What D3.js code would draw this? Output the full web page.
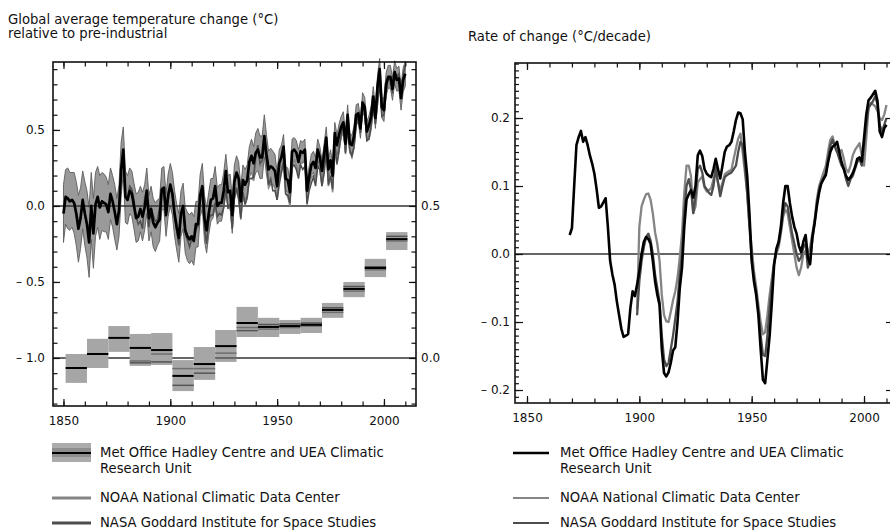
<!DOCTYPE html>
<html>
<head>
<meta charset="utf-8">
<script src="https://cdn.jsdelivr.net/npm/d3@7"></script>
<style>
  body { margin: 0; background: #fff; }
  svg { display: block; font-family: "DejaVu Sans", Verdana, sans-serif; }
</style>
</head>
<body>
<script>
// ---- data ----
const HAD_START = 1850;
// HadCRUT annual anomaly, relative to pre-industrial (degC), 1850-2010
const hadcrut = [
  -0.05, 0.06, 0.05, 0.03, 0.04, 0.02, -0.05, -0.15, -0.08, 0.04,
  -0.05, -0.12, -0.24, 0.00, -0.18, 0.01, 0.06, -0.01, 0.03, 0.02,
  0.01, -0.04, 0.08, 0.03, -0.04, -0.12, -0.03, 0.24, 0.37, 0.06,
  0.04, 0.10, 0.08, 0.00, -0.08, -0.07, -0.02, -0.07, -0.01, 0.10,
  -0.08, -0.02, -0.11, -0.14, -0.11, -0.09, 0.11, 0.12, -0.06, 0.07,
  0.14, 0.08, -0.05, -0.14, -0.21, -0.05, 0.00, -0.16, -0.20, -0.22,
  -0.20, -0.23, -0.12, -0.12, 0.07, 0.13, -0.08, -0.16, -0.05, 0.04,
  0.05, 0.13, 0.00, 0.02, 0.02, 0.10, 0.23, 0.09, 0.10, -0.06,
  0.16, 0.22, 0.18, 0.03, 0.17, 0.14, 0.17, 0.29, 0.33, 0.28,
  0.35, 0.37, 0.32, 0.32, 0.46, 0.34, 0.24, 0.26, 0.25, 0.23,
  0.13, 0.28, 0.32, 0.39, 0.18, 0.17, 0.09, 0.36, 0.37, 0.35,
  0.29, 0.36, 0.35, 0.37, 0.10, 0.19, 0.27, 0.29, 0.25, 0.37,
  0.32, 0.23, 0.34, 0.45, 0.24, 0.30, 0.20, 0.48, 0.40, 0.47,
  0.52, 0.55, 0.41, 0.60, 0.41, 0.40, 0.46, 0.60, 0.61, 0.51,
  0.68, 0.65, 0.49, 0.53, 0.59, 0.72, 0.58, 0.79, 0.90, 0.65,
  0.63, 0.80, 0.85, 0.85, 0.77, 0.88, 0.83, 0.84, 0.71, 0.83,
  0.87
];
// half-width of the HadCRUT uncertainty band
const hadUnc = [
  0.19, 0.18, 0.20, 0.19, 0.18, 0.20, 0.21, 0.22, 0.20, 0.19,
  0.21, 0.22, 0.23, 0.22, 0.23, 0.21, 0.20, 0.21, 0.19, 0.19,
  0.18, 0.18, 0.17, 0.17, 0.18, 0.17, 0.17, 0.18, 0.15, 0.17,
  0.16, 0.15, 0.15, 0.15, 0.16, 0.16, 0.15, 0.16, 0.15, 0.15,
  0.15, 0.15, 0.16, 0.16, 0.15, 0.14, 0.14, 0.14, 0.14, 0.14,
  0.14, 0.14, 0.15, 0.15, 0.16, 0.15, 0.15, 0.15, 0.16, 0.16,
  0.16, 0.16, 0.15, 0.15, 0.14, 0.15, 0.15, 0.15, 0.14, 0.14,
  0.13, 0.13, 0.12, 0.12, 0.12, 0.12, 0.11, 0.11, 0.11, 0.12,
  0.11, 0.11, 0.11, 0.10, 0.10, 0.10, 0.10, 0.10, 0.11, 0.11,
  0.13, 0.14, 0.14, 0.14, 0.14, 0.13, 0.12, 0.12, 0.11, 0.11,
  0.09, 0.09, 0.08, 0.08, 0.08, 0.08, 0.08, 0.08, 0.08, 0.08,
  0.08, 0.07, 0.07, 0.07, 0.08, 0.07, 0.07, 0.07, 0.07, 0.07,
  0.07, 0.07, 0.07, 0.07, 0.07, 0.07, 0.07, 0.07, 0.07, 0.07,
  0.07, 0.07, 0.065, 0.065, 0.065, 0.065, 0.065, 0.065, 0.065, 0.065,
  0.065, 0.065, 0.065, 0.065, 0.065, 0.065, 0.07, 0.07, 0.07, 0.07,
  0.075, 0.075, 0.075, 0.075, 0.075, 0.075, 0.075, 0.08, 0.08, 0.08,
  0.08
];
const OTHER_START = 1880;
// NOAA NCDC annual anomaly, 1880-2010
const noaa = [
  0.08, 0.12, 0.10, 0.02, -0.07, -0.05, -0.04, -0.08, 0.07, 0.11,
  -0.13, -0.06, -0.11, -0.13, -0.10, -0.03, 0.12, 0.10, -0.08, 0.07,
  0.13, 0.05, -0.06, -0.17, -0.25, -0.08, -0.02, -0.19, -0.23, -0.25,
  -0.21, -0.24, -0.15, -0.15, 0.02, 0.07, -0.13, -0.23, -0.08, -0.07,
  -0.05, 0.03, -0.07, -0.04, -0.05, -0.01, 0.11, 0.00, 0.01, -0.15,
  0.05, 0.10, 0.04, -0.09, 0.07, 0.01, 0.05, 0.18, 0.18, 0.17,
  0.29, 0.38, 0.26, 0.27, 0.40, 0.29, 0.12, 0.15, 0.14, 0.12,
  0.04, 0.19, 0.22, 0.29, 0.08, 0.06, 0.00, 0.24, 0.31, 0.26,
  0.22, 0.28, 0.29, 0.31, 0.06, 0.13, 0.19, 0.20, 0.16, 0.28,
  0.24, 0.13, 0.22, 0.36, 0.13, 0.19, 0.09, 0.37, 0.27, 0.36,
  0.46, 0.52, 0.34, 0.51, 0.36, 0.32, 0.38, 0.53, 0.59, 0.48,
  0.64, 0.61, 0.43, 0.44, 0.51, 0.65, 0.54, 0.68, 0.83, 0.60,
  0.59, 0.74, 0.80, 0.81, 0.77, 0.86, 0.81, 0.82, 0.74, 0.84,
  0.90
];
// NASA GISS annual anomaly, 1880-2010
const nasa = [
  0.05, 0.13, 0.11, 0.04, -0.07, -0.12, -0.10, -0.15, 0.04, 0.11,
  -0.14, -0.01, -0.06, -0.10, -0.09, -0.01, 0.10, 0.10, -0.06, 0.04,
  0.13, 0.06, -0.07, -0.16, -0.26, -0.05, -0.01, -0.18, -0.22, -0.27,
  -0.22, -0.23, -0.15, -0.13, 0.06, 0.07, -0.15, -0.25, -0.08, -0.06,
  -0.06, 0.02, -0.07, -0.05, -0.06, -0.01, 0.11, -0.01, 0.01, -0.15,
  0.05, 0.12, 0.05, -0.08, 0.09, 0.01, 0.06, 0.18, 0.18, 0.19,
  0.34, 0.40, 0.28, 0.30, 0.41, 0.30, 0.14, 0.18, 0.10, 0.10,
  0.04, 0.14, 0.22, 0.29, 0.08, 0.07, 0.02, 0.26, 0.27, 0.24,
  0.18, 0.27, 0.24, 0.26, 0.01, 0.10, 0.15, 0.19, 0.13, 0.26,
  0.24, 0.13, 0.22, 0.37, 0.14, 0.20, 0.11, 0.39, 0.28, 0.37,
  0.47, 0.53, 0.35, 0.52, 0.37, 0.33, 0.39, 0.53, 0.60, 0.48,
  0.66, 0.61, 0.43, 0.44, 0.52, 0.66, 0.54, 0.67, 0.82, 0.59,
  0.60, 0.75, 0.84, 0.83, 0.74, 0.89, 0.85, 0.87, 0.75, 0.86,
  0.93
];

// decadal means (right-hand axis of left panel)
const decStart = [1851, 1861, 1871, 1881, 1891, 1901, 1911, 1921, 1931, 1941, 1951, 1961, 1971, 1981, 1991, 2001];
const decHad  = [-0.033, 0.013, 0.066, 0.033, 0.026, -0.059, -0.020, 0.039, 0.115, 0.102, 0.105, 0.109, 0.158, 0.227, 0.296, 0.391];
const decLow  = [-0.082, -0.033, 0.020, -0.026, -0.023, -0.109, -0.072, -0.013, 0.069, 0.069, 0.079, 0.082, 0.132, 0.200, 0.266, 0.355];
const decHigh = [0.013, 0.063, 0.105, 0.079, 0.082, -0.007, 0.036, 0.092, 0.168, 0.132, 0.125, 0.132, 0.181, 0.250, 0.326, 0.414];
const decNoaa = [null, null, null, -0.010, 0.013, -0.035, -0.035, 0.016, 0.100, 0.095, 0.100, 0.105, 0.150, 0.220, 0.290, 0.385];
const decNasa = [null, null, null, -0.016, -0.013, -0.090, -0.050, 0.000, 0.090, 0.110, 0.112, 0.115, 0.165, 0.235, 0.300, 0.400];

// rate of change (degC/decade)
const RATE_HAD_START = 1869;
const rateHad = [
  0.028, 0.038, 0.100, 0.160, 0.172, 0.181, 0.165, 0.172, 0.160, 0.145,
  0.133, 0.118, 0.095, 0.068, 0.070, 0.076, 0.082, 0.040, -0.010, -0.030,
  -0.045, -0.070, -0.090, -0.110, -0.122, -0.120, -0.118, -0.080, -0.055, -0.062,
  -0.045, -0.025, 0.000, 0.018, 0.025, 0.022, 0.015, -0.010, -0.040, -0.060,
  -0.075, -0.140, -0.175, -0.180, -0.174, -0.160, -0.142, -0.137, -0.100, -0.050,
  -0.020, 0.040, 0.080, 0.088, 0.094, 0.083, 0.100, 0.145, 0.152, 0.144,
  0.125, 0.118, 0.115, 0.113, 0.125, 0.140, 0.125, 0.111, 0.130, 0.150,
  0.158, 0.160, 0.165, 0.180, 0.197, 0.208, 0.207, 0.198, 0.150, 0.115,
  0.060, -0.010, -0.040, -0.060, -0.090, -0.140, -0.185, -0.190, -0.155, -0.120,
  -0.070, -0.015, 0.008, 0.018, 0.040, 0.075, 0.100, 0.100, 0.075, 0.055,
  0.040, 0.030, 0.012, 0.003, 0.018, 0.028, -0.005, -0.015, 0.025, 0.045,
  0.070, 0.090, 0.104, 0.110, 0.116, 0.135, 0.150, 0.158, 0.160, 0.165,
  0.150, 0.135, 0.125, 0.115, 0.109, 0.113, 0.119, 0.128, 0.140, 0.142,
  0.136, 0.170, 0.205, 0.226, 0.230, 0.235, 0.240, 0.225, 0.180, 0.172,
  0.185, 0.190
];
const RATE_OTHER_START = 1899;
const rateNoaa = [
  -0.082, 0.040, 0.070, 0.080, 0.088, 0.089, 0.080, 0.060, 0.032, 0.015,
  -0.010, -0.060, -0.090, -0.099, -0.100, -0.085, -0.068, -0.055, -0.035, -0.005,
  0.030, 0.090, 0.130, 0.130, 0.114, 0.060, 0.070, 0.105, 0.110, 0.114,
  0.098, 0.092, 0.094, 0.097, 0.110, 0.120, 0.105, 0.093, 0.105, 0.117,
  0.120, 0.122, 0.124, 0.140, 0.155, 0.170, 0.177, 0.150, 0.120, 0.090,
  0.045, 0.010, -0.025, -0.048, -0.075, -0.100, -0.118, -0.115, -0.090, -0.060,
  -0.035, -0.012, 0.000, 0.010, 0.030, 0.055, 0.065, 0.060, 0.040, 0.020,
  0.000, -0.020, -0.031, -0.020, 0.000, 0.005, 0.000, 0.010, 0.030, 0.050,
  0.080, 0.100, 0.110, 0.120, 0.130, 0.150, 0.168, 0.173, 0.160, 0.150,
  0.150, 0.153, 0.140, 0.125, 0.120, 0.130, 0.145, 0.153, 0.158, 0.163,
  0.145, 0.130, 0.170, 0.215, 0.222, 0.220, 0.217, 0.210, 0.200, 0.197,
  0.205, 0.219
];
const rateNasa = [
  -0.090, -0.040, -0.010, 0.010, 0.025, 0.030, 0.020, 0.000, -0.030, -0.050,
  -0.070, -0.120, -0.155, -0.165, -0.160, -0.140, -0.120, -0.095, -0.070, -0.030,
  0.000, 0.060, 0.100, 0.110, 0.095, 0.060, 0.085, 0.125, 0.130, 0.120,
  0.100, 0.095, 0.090, 0.087, 0.100, 0.128, 0.105, 0.085, 0.100, 0.113,
  0.116, 0.118, 0.120, 0.125, 0.130, 0.150, 0.165, 0.160, 0.130, 0.090,
  0.040, -0.005, -0.035, -0.055, -0.085, -0.120, -0.148, -0.150, -0.120, -0.080,
  -0.045, -0.015, 0.005, 0.015, 0.035, 0.060, 0.075, 0.070, 0.050, 0.030,
  0.015, 0.000, -0.010, -0.005, 0.010, 0.015, -0.020, -0.010, 0.020, 0.045,
  0.075, 0.095, 0.105, 0.112, 0.120, 0.140, 0.160, 0.168, 0.158, 0.150,
  0.140, 0.130, 0.125, 0.110, 0.100, 0.110, 0.115, 0.125, 0.135, 0.140,
  0.130, 0.160, 0.190, 0.215, 0.220, 0.225, 0.232, 0.220, 0.190, 0.180,
  0.190, 0.200
];

// ticks and labels
const yearMajor = [1850, 1900, 1950, 2000];
const yearMinor = d3.range(1850, 2011, 10);
const tempMajor = [-1.0, -0.5, 0.0, 0.5];
const tempMinor = d3.range(-1.3, 0.95, 0.1);
const decLabels = [0.0, 0.5];
const decTicks = d3.range(-0.15, 0.97, 0.05);
const rateMajor = [-0.2, -0.1, 0.0, 0.1, 0.2];
const rateMinor = d3.range(-0.21, 0.285, 0.01);

const titleLeft = ["Global average temperature change (\u00B0C)", "relative to pre-industrial"];
const titleRight = "Rate of change (\u00B0C/decade)";
const legendNames = [
  ["Met Office Hadley Centre and UEA Climatic", "Research Unit"],
  ["NOAA National Climatic Data Center"],
  ["NASA Goddard Institute for Space Studies"]
];

// ---- styling ----
const FONT = 13.2;      // titles and legend
const TICK_FONT = 12;   // axis labels
const C_HAD = "#000";
const C_NOAA = "#858585";
const C_NASA = "#4d4d4d";
const C_BAND = "#9a9a9a";

const fmt = d => {
  const s = d3.format(".1f")(Math.abs(d));
  return d < -1e-9 ? "\u2013 " + s : s;
};

const svg = d3.select("body").append("svg")
  .attr("width", 890)
  .attr("height", 531);

// ---- scales ----
const xL = d3.scaleLinear().domain([1845.1, 2015]).range([53, 416]);
const yL = d3.scaleLinear().domain([-1.316, 0.947]).range([406, 62]);
const yD = d3.scaleLinear().domain([-0.158, 0.9735]).range([406, 62]);

const xR = d3.scaleLinear().domain([1844.66, 2012.9]).range([515, 893]);
const yR = d3.scaleLinear().domain([-0.2191, 0.2809]).range([403, 63]);

function series(values, start) {
  return values.map((v, i) => ({ year: start + i, value: v }));
}

// ---- left panel ----
const gL = svg.append("g");

const hadData = hadcrut.map((v, i) => ({ year: HAD_START + i, value: v, unc: hadUnc[i] }));

gL.append("path")
  .datum(hadData)
  .attr("fill", C_BAND)
  .attr("stroke", "#5e5e5e")
  .attr("stroke-width", 0.9)
  .attr("d", d3.area()
    .x(d => xL(d.year))
    .y0(d => yL(d.value - d.unc))
    .y1(d => yL(d.value + d.unc)));

// reference lines (0.0 and -1.0)
gL.selectAll(".ref")
  .data([0.0, -1.0])
  .enter().append("line")
  .attr("x1", xL.range()[0]).attr("x2", xL.range()[1])
  .attr("y1", d => yL(d)).attr("y2", d => yL(d))
  .attr("stroke", "#333")
  .attr("stroke-width", 1.5);

const lineL = d3.line().x(d => xL(d.year)).y(d => yL(d.value));

gL.append("path").datum(series(noaa, OTHER_START))
  .attr("fill", "none").attr("stroke", C_NOAA).attr("stroke-width", 1.5).attr("d", lineL);
gL.append("path").datum(series(nasa, OTHER_START))
  .attr("fill", "none").attr("stroke", C_NASA).attr("stroke-width", 1.5).attr("d", lineL);
gL.append("path").datum(hadData)
  .attr("fill", "none").attr("stroke", C_HAD).attr("stroke-width", 2.7)
  .attr("stroke-linejoin", "round").attr("d", lineL);

// decadal boxes
const decData = decStart.map((s, i) => ({
  start: s, had: decHad[i], low: decLow[i], high: decHigh[i], noaa: decNoaa[i], nasa: decNasa[i]
}));

const decG = gL.selectAll(".dec")
  .data(decData)
  .enter().append("g");

decG.append("rect")
  .attr("x", d => xL(d.start))
  .attr("width", d => xL(d.start + 10) - xL(d.start))
  .attr("y", d => yD(d.high))
  .attr("height", d => yD(d.low) - yD(d.high))
  .attr("fill", "#a6a6a6");

decG.filter(d => d.noaa !== null).append("line")
  .attr("x1", d => xL(d.start)).attr("x2", d => xL(d.start + 10))
  .attr("y1", d => yD(d.noaa)).attr("y2", d => yD(d.noaa))
  .attr("stroke", "#6e6e6e").attr("stroke-width", 1.5);

decG.filter(d => d.nasa !== null).append("line")
  .attr("x1", d => xL(d.start)).attr("x2", d => xL(d.start + 10))
  .attr("y1", d => yD(d.nasa)).attr("y2", d => yD(d.nasa))
  .attr("stroke", "#555").attr("stroke-width", 1.5);

decG.append("line")
  .attr("x1", d => xL(d.start)).attr("x2", d => xL(d.start + 10))
  .attr("y1", d => yD(d.had)).attr("y2", d => yD(d.had))
  .attr("stroke", C_HAD).attr("stroke-width", 2);

// ---- right panel ----
const gR = svg.append("g");

gR.append("line")
  .attr("x1", xR.range()[0]).attr("x2", xR.range()[1])
  .attr("y1", yR(0)).attr("y2", yR(0))
  .attr("stroke", "#333").attr("stroke-width", 1.5);

const lineR = d3.line().x(d => xR(d.year)).y(d => yR(d.value));

gR.append("path").datum(series(rateNoaa, RATE_OTHER_START))
  .attr("fill", "none").attr("stroke", C_NOAA).attr("stroke-width", 2.3)
  .attr("stroke-linejoin", "round").attr("d", lineR);
gR.append("path").datum(series(rateNasa, RATE_OTHER_START))
  .attr("fill", "none").attr("stroke", C_NASA).attr("stroke-width", 2.3)
  .attr("stroke-linejoin", "round").attr("d", lineR);
gR.append("path").datum(series(rateHad, RATE_HAD_START))
  .attr("fill", "none").attr("stroke", C_HAD).attr("stroke-width", 2.6)
  .attr("stroke-linejoin", "round").attr("d", lineR);

// ---- axes ----
function styleAxis(g) {
  g.select(".domain").remove();
  g.selectAll("line").attr("stroke", "#111").attr("stroke-width", 1.2);
  g.selectAll("text").attr("font-size", TICK_FONT).attr("fill", "#111")
    .attr("font-family", "DejaVu Sans, Verdana, sans-serif");
}

function frame(g, x, y) {
  g.append("rect")
    .attr("x", x.range()[0]).attr("y", y.range()[1])
    .attr("width", x.range()[1] - x.range()[0])
    .attr("height", y.range()[0] - y.range()[1])
    .attr("fill", "none").attr("stroke", "#111").attr("stroke-width", 1.6);
}

function yearAxes(g, x, y, minor) {
  const bottom = y.range()[0], top = y.range()[1];
  g.append("g").attr("transform", `translate(0,${bottom})`)
    .call(d3.axisBottom(x).tickValues(minor).tickSize(-4.5).tickFormat("")).call(styleAxis);
  g.append("g").attr("transform", `translate(0,${bottom})`)
    .call(d3.axisBottom(x).tickValues(yearMajor).tickSize(-7).tickPadding(10).tickFormat(d3.format("d")))
    .call(styleAxis);
  g.append("g").attr("transform", `translate(0,${top})`)
    .call(d3.axisTop(x).tickValues(minor).tickSize(-4.5).tickFormat("")).call(styleAxis);
  g.append("g").attr("transform", `translate(0,${top})`)
    .call(d3.axisTop(x).tickValues(yearMajor).tickSize(-7).tickFormat("")).call(styleAxis);
}

// left panel axes
yearAxes(gL, xL, yL, yearMinor);
gL.append("g").attr("transform", `translate(${xL.range()[0]},0)`)
  .call(d3.axisLeft(yL).tickValues(tempMinor).tickSize(-4.5).tickFormat("")).call(styleAxis);
gL.append("g").attr("transform", `translate(${xL.range()[0]},0)`)
  .call(d3.axisLeft(yL).tickValues(tempMajor).tickSize(-7).tickPadding(8).tickFormat(fmt)).call(styleAxis);
gL.append("g").attr("transform", `translate(${xL.range()[1]},0)`)
  .call(d3.axisRight(yD).tickValues(decTicks).tickSize(-4.5).tickFormat("")).call(styleAxis);
gL.append("g").attr("transform", `translate(${xL.range()[1]},0)`)
  .call(d3.axisRight(yD).tickValues([0.25, 0.75]).tickSize(-7).tickFormat("")).call(styleAxis);
gL.append("g").attr("transform", `translate(${xL.range()[1]},0)`)
  .call(d3.axisRight(yD).tickValues(decLabels).tickSize(-7).tickPadding(5).tickFormat(fmt)).call(styleAxis);
frame(gL, xL, yL);

// right panel axes
yearAxes(gR, xR, yR, yearMinor);
gR.append("g").attr("transform", `translate(${xR.range()[0]},0)`)
  .call(d3.axisLeft(yR).tickValues(rateMinor).tickSize(-4).tickFormat("")).call(styleAxis);
gR.append("g").attr("transform", `translate(${xR.range()[0]},0)`)
  .call(d3.axisLeft(yR).tickValues(rateMajor).tickSize(-8).tickPadding(5).tickFormat(fmt)).call(styleAxis);
gR.append("g").attr("transform", `translate(${xR.range()[1]},0)`)
  .call(d3.axisRight(yR).tickValues(rateMajor).tickSize(-7).tickFormat("")).call(styleAxis);
frame(gR, xR, yR);

// ---- titles ----
svg.append("text")
  .attr("x", 8).attr("y", 24)
  .attr("font-size", FONT).attr("fill", "#111")
  .selectAll("tspan").data(titleLeft).enter().append("tspan")
  .attr("x", 8).attr("dy", (d, i) => i === 0 ? 0 : 14)
  .text(d => d);

svg.append("text")
  .attr("x", 468).attr("y", 41)
  .attr("font-size", FONT).attr("fill", "#111")
  .text(titleRight);

// ---- legends ----
function legendText(x, y, lines) {
  svg.append("text").attr("x", x).attr("y", y)
    .attr("font-size", FONT).attr("fill", "#111")
    .selectAll("tspan").data(lines).enter().append("tspan")
    .attr("x", x).attr("dy", (d, i) => i === 0 ? 0 : 16)
    .text(d => d);
}

// left legend
const lg = svg.append("g");
lg.append("rect").attr("x", 52).attr("y", 443).attr("width", 39).attr("height", 19).attr("fill", "#ababab");
lg.append("rect").attr("x", 52).attr("y", 448).attr("width", 39).attr("height", 9).attr("fill", "#8e8e8e");
lg.append("line").attr("x1", 52).attr("x2", 91).attr("y1", 453).attr("y2", 453)
  .attr("stroke", C_HAD).attr("stroke-width", 2.2);
lg.append("line").attr("x1", 52).attr("x2", 91).attr("y1", 498).attr("y2", 498)
  .attr("stroke", C_NOAA).attr("stroke-width", 3);
lg.append("line").attr("x1", 52).attr("x2", 91).attr("y1", 523).attr("y2", 523)
  .attr("stroke", C_NASA).attr("stroke-width", 3);
legendText(100, 457, legendNames[0]);
legendText(100, 502, legendNames[1]);
legendText(100, 527, legendNames[2]);

// right legend
const rg = svg.append("g");
rg.append("line").attr("x1", 513).attr("x2", 549).attr("y1", 453).attr("y2", 453)
  .attr("stroke", C_HAD).attr("stroke-width", 2.4);
rg.append("line").attr("x1", 513).attr("x2", 549).attr("y1", 498).attr("y2", 498)
  .attr("stroke", C_NOAA).attr("stroke-width", 2);
rg.append("line").attr("x1", 513).attr("x2", 549).attr("y1", 523).attr("y2", 523)
  .attr("stroke", C_NASA).attr("stroke-width", 2);
legendText(560, 457, legendNames[0]);
legendText(560, 502, legendNames[1]);
legendText(560, 527, legendNames[2]);
</script>
</body>
</html>
